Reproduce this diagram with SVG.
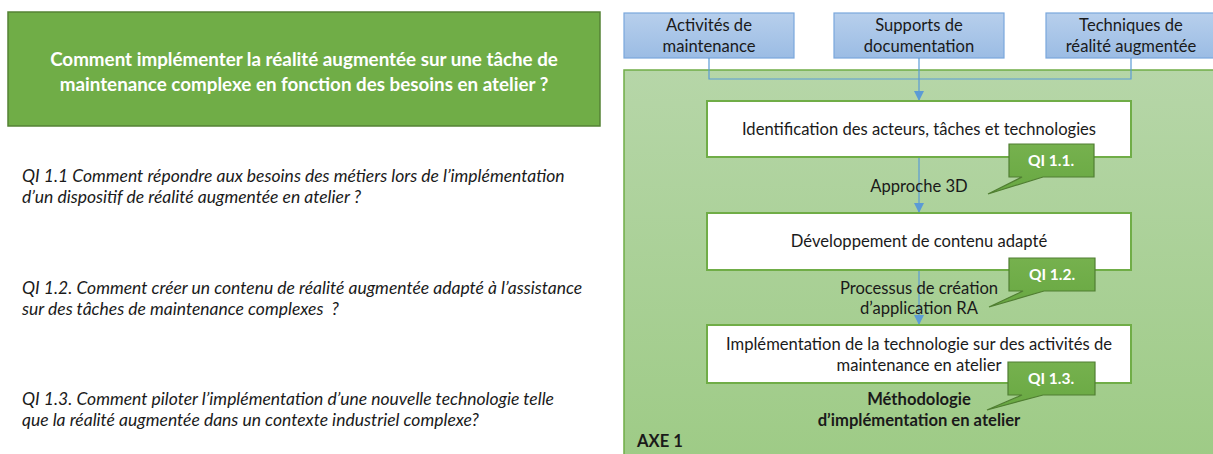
<svg xmlns="http://www.w3.org/2000/svg" width="1213" height="454" viewBox="0 0 1213 454">
<defs>
<linearGradient id="gBlue" x1="0" y1="0" x2="0" y2="1"><stop offset="0" stop-color="#b7cfec"/><stop offset="1" stop-color="#9bbce4"/></linearGradient>
<linearGradient id="gCont" x1="0" y1="0" x2="0" y2="1"><stop offset="0" stop-color="#b6d6a8"/><stop offset="1" stop-color="#9ecb86"/></linearGradient>
<linearGradient id="gCall" x1="0" y1="0" x2="0" y2="1"><stop offset="0" stop-color="#76b14e"/><stop offset="1" stop-color="#68a842"/></linearGradient>
<marker id="arr" viewBox="0 0 10 10" refX="10" refY="5" markerWidth="10" markerHeight="10" markerUnits="userSpaceOnUse" orient="auto"><path d="M0,0 L10,5 L0,10 Z" fill="#5b9bd5"/></marker>
</defs>
<style>
text{font-family:Lato,"Liberation Sans",sans-serif;fill:#1a1a1a}
.c{text-anchor:middle;font-size:16.6px}
.q{font-size:17.5px;font-style:italic}
.b{font-weight:bold}
.w{fill:#ffffff}
.top{fill:url(#gBlue);stroke:#7aa7dc;stroke-width:1.2}
.wb{fill:#ffffff;stroke:#70ad47;stroke-width:2}
.call{fill:url(#gCall);stroke:#507e32;stroke-width:1.2}
.con{fill:none;stroke:#5b9bd5;stroke-width:1.2}
</style>
<rect width="1213" height="454" fill="#ffffff"/>

<g id="title">
<rect x="8" y="12" width="592" height="114" fill="#70ad47" stroke="#548235" stroke-width="1.5"/>
<text class="c b w" x="304" y="66" style="font-size:18.8px">Comment implémenter la réalité augmentée sur une tâche de</text>
<text class="c b w" x="304" y="91" style="font-size:18.8px">maintenance complexe en fonction des besoins en atelier ?</text>
</g>

<g id="qi11">
<text class="q" x="22" y="182">QI 1.1 Comment répondre aux besoins des métiers lors de l’implémentation</text>
<text class="q" x="22" y="203">d’un dispositif de réalité augmentée en atelier ?</text>
</g>
<g id="qi12">
<text class="q" x="22" y="294">QI 1.2. Comment créer un contenu de réalité augmentée adapté à l’assistance</text>
<text class="q" x="22" y="315" xml:space="preserve">sur des tâches de maintenance complexes  ?</text>
</g>
<g id="qi13">
<text class="q" x="22" y="405">QI 1.3. Comment piloter l’implémentation d’une nouvelle technologie telle</text>
<text class="q" x="22" y="426">que la réalité augmentée dans un contexte industriel complexe?</text>
</g>

<g id="axe1">
<rect x="624" y="70" width="594" height="390" fill="url(#gCont)" stroke="#70ad47" stroke-width="1.5"/>
<text class="b" x="637" y="447" style="font-size:16.6px">AXE 1</text>
</g>

<g id="activites">
<rect class="top" x="624" y="13" width="170" height="45"/>
<text class="c" x="709" y="31">Activités de</text>
<text class="c" x="709" y="52">maintenance</text>
</g>
<g id="supports">
<rect class="top" x="834" y="13" width="170" height="45"/>
<text class="c" x="919" y="31">Supports de</text>
<text class="c" x="919" y="52">documentation</text>
</g>
<g id="techniques">
<rect class="top" x="1046" y="13" width="170" height="45"/>
<text class="c" x="1131" y="31">Techniques de</text>
<text class="c" x="1131" y="52">réalité augmentée</text>
</g>

<g id="connectors">
<path class="con" d="M709,58 V79 H1131 V58"/>
<path class="con" d="M919,58 V101" marker-end="url(#arr)"/>
<path class="con" d="M919,157 V213" marker-end="url(#arr)"/>
<path class="con" d="M919,270 V325" marker-end="url(#arr)"/>
</g>

<g id="identification">
<rect class="wb" x="707" y="101" width="424" height="56"/>
<text class="c" x="919" y="135">Identification des acteurs, tâches et technologies</text>
</g>
<g id="label-approche">
<text class="c" x="919" y="192">Approche 3D</text>
</g>

<g id="developpement">
<rect class="wb" x="707" y="213" width="424" height="57"/>
<text class="c" x="919" y="247">Développement de contenu adapté</text>
</g>
<g id="label-processus">
<text class="c" x="919" y="294">Processus de création</text>
<text class="c" x="919" y="314">d’application RA</text>
</g>

<g id="implementation">
<rect class="wb" x="707" y="325" width="424" height="58"/>
<text class="c" x="919" y="350">Implémentation de la technologie sur des activités de</text>
<text class="c" x="919" y="371">maintenance en atelier</text>
</g>
<g id="label-methodologie">
<text class="c b" x="919" y="405">Méthodologie</text>
<text class="c b" x="919" y="426">d’implémentation en atelier</text>
</g>

<g id="callout-qi11">
<path class="call" d="M1009,144 H1094 V177 H1043 L988,194 L1022,177 H1009 Z"/>
<text class="c b w" x="1051" y="166" style="font-size:15.5px">QI 1.1.</text>
</g>
<g id="callout-qi12">
<path class="call" d="M1009,258 H1095 V291 H1044 L989,307 L1023,291 H1009 Z"/>
<text class="c b w" x="1052" y="280" style="font-size:15.5px">QI 1.2.</text>
</g>
<g id="callout-qi13">
<path class="call" d="M1008,362 H1095 V395 H1043 L987,410 L1022,395 H1008 Z"/>
<text class="c b w" x="1051" y="384" style="font-size:15.5px">QI 1.3.</text>
</g>
</svg>
